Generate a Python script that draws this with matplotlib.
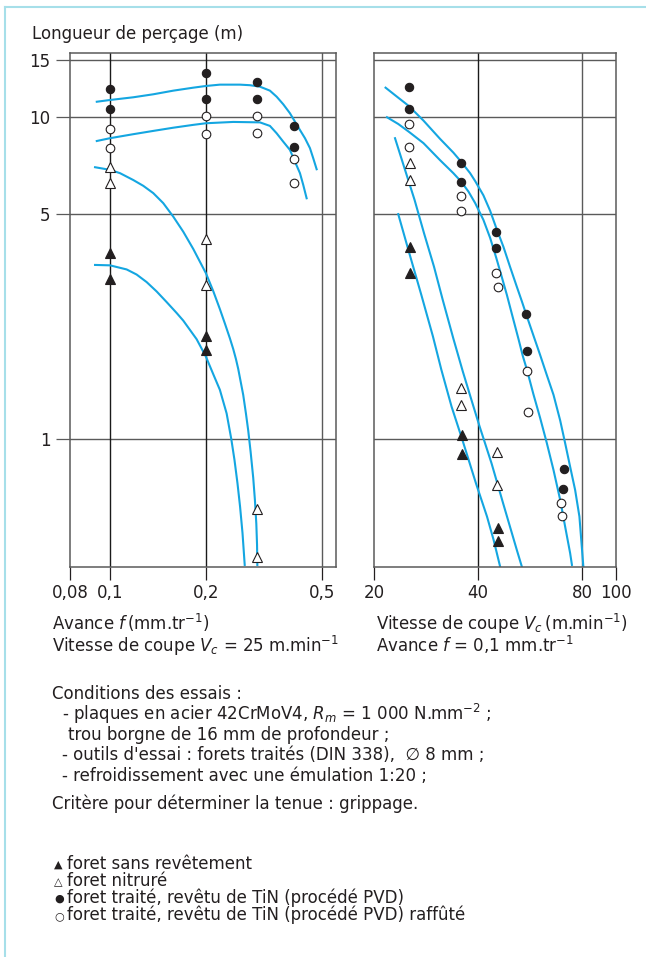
import numpy as np
import matplotlib
matplotlib.use("Agg")
import matplotlib.pyplot as plt
from matplotlib.lines import Line2D
from matplotlib.ticker import NullLocator

W, H = 646, 957

# ── Axes ticks ─────────────────────────────────────────────────────────────
L_TICKS = [1, 5, 10, 15]
L_TICKLABELS = ["1", "5", "10", "15"]
F_TICKS = [0.08, 0.1, 0.2, 0.5]
F_TICKLABELS = ["0,08", "0,1", "0,2", "0,5"]
VC_TICKS = [20, 40, 80, 100]
VC_TICKLABELS = ["20", "40", "80", "100"]

# ── Panneau gauche : Vc = 25 m/min, x = avance f ───────────────────────────
f_tin = [0.1, 0.1, 0.2, 0.2, 0.3, 0.3, 0.4, 0.4]
L_tin = [12.2, 10.6, 13.7, 11.4, 12.8, 11.4, 9.38, 8.07]
f_raff = [0.1, 0.1, 0.2, 0.2, 0.3, 0.3, 0.4, 0.4]
L_raff = [9.18, 8.01, 10.05, 8.85, 10.05, 8.9, 7.39, 6.24]
f_nitr = [0.1, 0.1, 0.2, 0.2, 0.3, 0.3]
L_nitr = [7.0, 6.24, 4.18, 3.01, 0.606, 0.43]
f_sans = [0.1, 0.1, 0.2, 0.2]
L_sans = [3.78, 3.14, 2.09, 1.89]

# courbes
fc_tin = [0.0929, 0.1, 0.1183, 0.1367, 0.158, 0.1825, 0.2, 0.2233, 0.2616, 0.283,
          0.3064, 0.3316, 0.3496, 0.3684, 0.3884, 0.4042, 0.4204, 0.4374, 0.455,
          0.467, 0.4797]
Lc_tin = [11.15, 11.29, 11.51, 11.76, 12.07, 12.33, 12.48, 12.6, 12.6, 12.55,
          12.42, 12.07, 11.56, 10.95, 10.27, 9.67, 9.11, 8.59, 8.0, 7.44, 6.88]
fc_raff = [0.0929, 0.1, 0.1183, 0.1367, 0.158, 0.1825, 0.2, 0.2482, 0.3064,
           0.3316, 0.3496, 0.3684, 0.3884, 0.4042, 0.4204, 0.4315, 0.4432]
Lc_raff = [8.42, 8.59, 8.84, 9.05, 9.26, 9.45, 9.56, 9.65, 9.62,
           9.38, 8.90, 8.38, 7.90, 7.26, 6.69, 6.15, 5.59]
fc_nitr = [0.092, 0.1, 0.1075, 0.1183, 0.1272, 0.1367, 0.1469, 0.158, 0.1698,
           0.1825, 0.1915, 0.2, 0.2118, 0.2233, 0.2324, 0.2418, 0.2482, 0.2535,
           0.2581, 0.263, 0.2685, 0.2743, 0.2794, 0.2847, 0.2906, 0.2945, 0.2978,
           0.2995, 0.3002]
Lc_nitr = [6.98, 6.85, 6.69, 6.37, 6.11, 5.80, 5.40, 4.90, 4.40,
           3.89, 3.55, 3.27, 2.88, 2.53, 2.28, 2.05, 1.90, 1.77,
           1.65, 1.51, 1.37, 1.20, 1.06, 0.911, 0.757, 0.646, 0.545,
           0.469, 0.406]
fc_sans = [0.092, 0.1, 0.1128, 0.1212, 0.1303, 0.1401, 0.1506, 0.1619, 0.1698,
           0.187, 0.2, 0.2118, 0.2233, 0.2355, 0.2443, 0.2506, 0.2566, 0.2619,
           0.267, 0.2717]
Lc_sans = [3.47, 3.46, 3.36, 3.24, 3.07, 2.87, 2.66, 2.46, 2.33,
           2.04, 1.80, 1.59, 1.42, 1.20, 1.0, 0.86, 0.728, 0.616,
           0.51, 0.406]

# ── Panneau droit : f = 0,1 mm/tr, x = vitesse de coupe Vc ─────────────────
v_tin = [25.2, 25.2, 35.7, 35.7, 45.1, 45.1, 55.0, 55.4, 70.8, 70.4]
V_tin = [12.4, 10.6, 7.2, 6.28, 4.40, 3.92, 2.44, 1.88, 0.807, 0.70]
v_raff = [25.2, 25.2, 35.7, 35.7, 45.1, 45.6, 55.4, 55.7, 69.4, 69.8]
V_raff = [9.51, 8.07, 5.68, 5.11, 3.28, 2.97, 1.63, 1.21, 0.633, 0.577]
v_nitr = [25.4, 25.4, 35.7, 35.7, 45.3, 45.3]
V_nitr = [7.2, 6.37, 1.44, 1.27, 0.911, 0.72]
v_sans = [25.4, 25.4, 35.9, 35.9, 45.6, 45.6]
V_sans = [3.95, 3.28, 1.03, 0.898, 0.53, 0.482]

vc_tin = [21.6, 23.3, 25.2, 27.8, 31.0, 33.9, 35.7, 37.9, 39.2, 41.4, 43.3, 45.1,
          47.3, 49.4, 51.7, 53.5, 55.3, 57.7, 60.4, 63.1, 66.0, 69.0, 71.3, 73.7,
          76.2, 78.4, 80.5]
Vc_tin = [12.33, 11.56, 10.82, 9.74, 8.56, 7.75, 7.26, 6.69, 6.32, 5.71, 5.11, 4.52,
          3.95, 3.43, 2.97, 2.67, 2.40, 2.10, 1.82, 1.58, 1.37, 1.14, 0.97, 0.82,
          0.694, 0.574, 0.40]
vc_raff = [21.8, 23.5, 25.2, 27.8, 31.0, 33.9, 35.7, 37.5, 39.2, 41.4, 43.3, 45.1,
           46.8, 48.4, 50.1, 52.3, 53.8, 55.3, 57.7, 60.4, 63.1, 66.0, 69.0, 71.3,
           73.7, 74.6]
Vc_raff = [9.98, 9.51, 9.0, 8.29, 7.35, 6.69, 6.30, 5.86, 5.40, 4.79, 4.21, 3.65,
           3.18, 2.80, 2.43, 2.04, 1.81, 1.64, 1.38, 1.16, 0.972, 0.80, 0.646, 0.534,
           0.442, 0.406]
vc_nitr = [23.0, 24.5, 26.2, 27.9, 29.8, 31.6, 33.9, 36.1, 38.5, 40.4, 43.7, 47.2,
           49.4, 51.7, 53.5]
Vc_nitr = [8.59, 6.93, 5.52, 4.35, 3.43, 2.70, 2.05, 1.62, 1.29, 1.09, 0.84, 0.631,
           0.534, 0.452, 0.40]
vc_sans = [23.5, 25.3, 27.4, 29.6, 31.3, 33.5, 36.0, 39.4, 42.4, 44.3, 46.3]
Vc_sans = [4.99, 3.77, 2.80, 2.08, 1.64, 1.26, 0.993, 0.728, 0.574, 0.486, 0.40]

# ── Style ──────────────────────────────────────────────────────────────────
INK = "#231f20"
GRID = "#5a5a5a"
DARK = "#1a1a1a"
CYAN = "#14a6e1"
FRAME = "#a6dfe9"

plt.rcParams.update({
    "font.family": ["DejaVu Sans"],
    "font.size": 12,
    "text.color": INK,
    "mathtext.fontset": "dejavusans",
})

MK = {
    "tin":  dict(marker="o", ms=6.0, mfc=INK, mec=INK, mew=0.8),
    "raff": dict(marker="o", ms=6.2, mfc="white", mec=INK, mew=0.8),
    "nitr": dict(marker="^", ms=6.8, mfc="white", mec=INK, mew=0.8),
    "sans": dict(marker="^", ms=6.5, mfc=INK, mec=INK, mew=0.8),
}

fig = plt.figure(figsize=(W / 100, H / 100), dpi=100)

# échelle gauche : log par morceaux (comme la gravure d'origine)
LOG_KNOTS = np.log10([0.05, 0.08, 0.1, 0.2, 0.5, 1.0])
POS_KNOTS = [-84.3, 0.0, 40.0, 136.0, 252.0, 339.7]


def fwd(x):
    return np.interp(np.log10(np.clip(x, 1e-6, None)), LOG_KNOTS, POS_KNOTS)


def inv(y):
    return 10 ** np.interp(y, POS_KNOTS, LOG_KNOTS)


ax1 = fig.add_axes([70 / W, 1 - 567 / H, 266 / W, 514 / H])
ax2 = fig.add_axes([374 / W, 1 - 567 / H, 242 / W, 514 / H], sharey=ax1)

ax1.set_xscale("function", functions=(fwd, inv))
ax1.set_xlim(0.08, 0.559)
ax2.set_xscale("log")
ax2.set_xlim(20, 100)
ax1.set_yscale("log")
ax1.set_ylim(0.40, 15.8)

for ax in (ax1, ax2):
    for sp in ax.spines.values():
        sp.set_color(GRID)
        sp.set_linewidth(1.1)
    ax.yaxis.set_minor_locator(NullLocator())
    ax.xaxis.set_minor_locator(NullLocator())
    for yv in L_TICKS:
        ax.axhline(yv, color=GRID, lw=1.0, zorder=1)
    ax.tick_params(axis="x", direction="out", length=9, width=0.9, color=INK,
                   pad=3.5, labelsize=12, labelcolor=INK)

ax1.set_yticks(L_TICKS, L_TICKLABELS)
ax1.tick_params(axis="y", direction="out", length=10, width=0.9, color=GRID,
                pad=4, labelsize=12, labelcolor=INK)
ax2.tick_params(axis="y", left=False, labelleft=False)

ax1.set_xticks(F_TICKS, F_TICKLABELS)
ax2.set_xticks(VC_TICKS, VC_TICKLABELS)

for xv, col in zip(F_TICKS[1:], [DARK, DARK, GRID]):
    ax1.axvline(xv, color=col, lw=1.0, zorder=1)
for xv, col in zip(VC_TICKS[1:3], [DARK, GRID]):
    ax2.axvline(xv, color=col, lw=1.0, zorder=1)

# courbes
for x, y in [(fc_tin, Lc_tin), (fc_raff, Lc_raff), (fc_nitr, Lc_nitr), (fc_sans, Lc_sans)]:
    ax1.plot(x, y, color=CYAN, lw=1.5, zorder=2, solid_joinstyle="round")
for x, y in [(vc_tin, Vc_tin), (vc_raff, Vc_raff), (vc_nitr, Vc_nitr), (vc_sans, Vc_sans)]:
    ax2.plot(x, y, color=CYAN, lw=1.5, zorder=2, solid_joinstyle="round")

# points
ax1.plot(f_tin, L_tin, ls="none", zorder=3, **MK["tin"])
ax1.plot(f_raff, L_raff, ls="none", zorder=3, **MK["raff"])
ax1.plot(f_nitr, L_nitr, ls="none", zorder=3, **MK["nitr"])
ax1.plot(f_sans, L_sans, ls="none", zorder=3, **MK["sans"])
ax2.plot(v_tin, V_tin, ls="none", zorder=3, **MK["tin"])
ax2.plot(v_raff, V_raff, ls="none", zorder=3, **MK["raff"])
ax2.plot(v_nitr, V_nitr, ls="none", zorder=3, **MK["nitr"])
ax2.plot(v_sans, V_sans, ls="none", zorder=3, **MK["sans"])

# cadre cyan (haut + gauche)
fig.add_artist(Line2D([5 / W, 1.0], [1 - 7 / H, 1 - 7 / H], color=FRAME, lw=1.5))
fig.add_artist(Line2D([5 / W, 5 / W], [0.0, 1 - 7 / H], color=FRAME, lw=1.5))


def put(x, y, s, **kw):
    fig.text(x / W, 1 - y / H, s, ha="left", va="baseline", **kw)


put(32, 39, "Longueur de perçage (m)")

put(52, 630, r"Avance $f\,$(mm.tr$^{-1}$)")
put(52, 652, r"Vitesse de coupe $V_c$ = 25 m.min$^{-1}$")
put(376, 630, r"Vitesse de coupe $V_c\,$(m.min$^{-1}$)")
put(376, 652, r"Avance $f$ = 0,1 mm.tr$^{-1}$")

put(52, 699, "Conditions des essais :")
put(62, 719.5, r"- plaques en acier 42CrMoV4, $R_m$ = 1 000 N.mm$^{-2}$ ;")
put(68, 740, "trou borgne de 16 mm de profondeur ;")
put(62, 760.5, "- outils d'essai : forets traités (DIN 338),  ∅ 8 mm ;")
put(62, 781, "- refroidissement avec une émulation 1:20 ;")
put(52, 809, "Critère pour déterminer la tenue : grippage.")

LEGEND_SYMS = ["▲", "△", "●", "○"]
LEGEND_TXT = [
    "foret sans revêtement",
    "foret nitruré",
    "foret traité, revêtu de TiN (procédé PVD)",
    "foret traité, revêtu de TiN (procédé PVD) raffûté",
]
for i, (sym, txt) in enumerate(zip(LEGEND_SYMS, LEGEND_TXT)):
    yb = 869 + i * 17
    put(54, yb - 1, sym, fontsize=8)
    put(67, yb, txt)

fig.savefig("out.png", dpi=100)
